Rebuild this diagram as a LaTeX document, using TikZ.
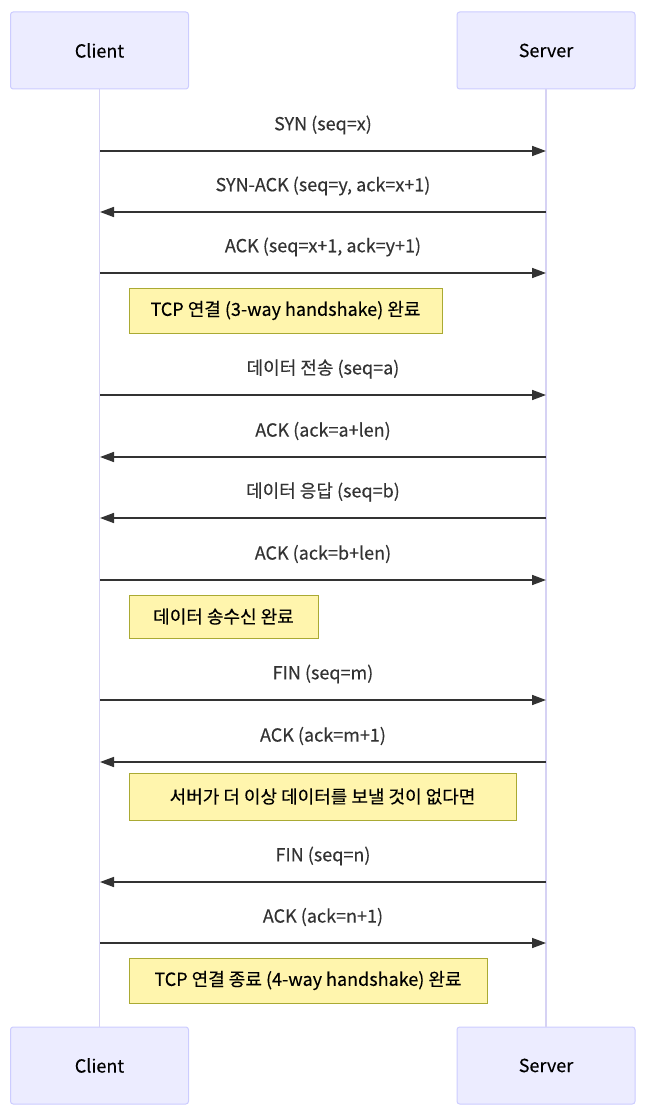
\documentclass[tikz,border=0pt]{standalone}
\usepackage{fontspec}
\setmainfont{Noto Sans CJK KR}[FakeBold=0.25]
\usetikzlibrary{arrows.meta}
\definecolor{actfill}{HTML}{ECECFF}
\definecolor{actline}{HTML}{CCCCFF}
\definecolor{lifeline}{HTML}{D6D2F4}
\definecolor{notefill}{HTML}{FFF5AD}
\definecolor{noteline}{HTML}{AAAA33}
\definecolor{msgcol}{HTML}{333333}
\tikzset{
  actor/.style={draw=actline, fill=actfill, line width=0.75pt, rounded corners=2pt,
    minimum width=133.5pt, minimum height=57.75pt, font=\fontsize{13.5pt}{16pt}\selectfont, text=black},
  life/.style={draw=lifeline, line width=1.4pt},
  msg/.style={draw=msgcol, line width=1.2pt, -{Triangle[length=10.5pt,width=7.5pt]}},
  lbl/.style={font=\fontsize{13.5pt}{16pt}\selectfont, text=msgcol, inner sep=0pt},
  note/.style={draw=noteline, fill=notefill, line width=0.75pt, minimum height=33.75pt,
    font=\fontsize{13.5pt}{16pt}\selectfont, text=black, inner sep=2pt}
}
\begin{document}
\begin{tikzpicture}[x=0.75pt,y=-0.75pt]
\useasboundingbox (0,0) rectangle (648,1116);
% actors
\node[actor] (ct) at (99.5,50.5) {Client};
\node[actor] (st) at (546,50.5) {Server};
\node[actor] (cb) at (99.5,1065.5) {Client};
\node[actor] (sb) at (546,1065.5) {Server};
\draw[life] (ct.south) -- (cb.north);
\draw[life] (st.south) -- (sb.north);
% message anchor points
\foreach \n/\y in {1/151,2/212,3/273,4/395,5/457,6/518,7/580,8/700,9/762,10/882,11/943}{
  \coordinate (c\n) at (100,\y);
  \coordinate (s\n) at (546,\y);
}
\draw[msg] (c1) -- (s1) node[lbl, midway, yshift=19.5pt] (m1) {SYN (seq=x)};
\draw[msg] (s2) -- (c2) node[lbl, midway, yshift=19.5pt] (m2) {SYN-ACK (seq=y, ack=x+1)};
\draw[msg] (c3) -- (s3) node[lbl, midway, yshift=19.5pt] (m3) {ACK (seq=x+1, ack=y+1)};
\node[note, minimum width=234.75pt] (n1) at (285.5,310.5) {TCP 연결 (3-way handshake) 완료};
\draw[msg] (c4) -- (s4) node[lbl, midway, yshift=19.5pt] (m4) {데이터 전송 (seq=a)};
\draw[msg] (s5) -- (c5) node[lbl, midway, yshift=19.5pt] (m5) {ACK (ack=a+len)};
\draw[msg] (s6) -- (c6) node[lbl, midway, yshift=19.5pt] (m6) {데이터 응답 (seq=b)};
\draw[msg] (c7) -- (s7) node[lbl, midway, yshift=19.5pt] (m7) {ACK (ack=b+len)};
\node[note, minimum width=141.75pt, minimum height=32.25pt] (n2) at (223.5,616.5) {데이터 송수신 완료};
\draw[msg] (c8) -- (s8) node[lbl, midway, yshift=19.5pt] (m8) {FIN (seq=m)};
\draw[msg] (s9) -- (c9) node[lbl, midway, yshift=19.5pt] (m9) {ACK (ack=m+1)};
\node[note, minimum width=290.25pt, minimum height=35.25pt] (n3) at (322.5,796.5) {서버가 더 이상 데이터를 보낼 것이 없다면};
\draw[msg] (s10) -- (c10) node[lbl, midway, yshift=19.5pt] (m10) {FIN (seq=n)};
\draw[msg] (c11) -- (s11) node[lbl, midway, yshift=19.5pt] (m11) {ACK (ack=n+1)};
\node[note, minimum width=268.5pt] (n4) at (308,980.5) {TCP 연결 종료 (4-way handshake) 완료};
\end{tikzpicture}
\end{document}
